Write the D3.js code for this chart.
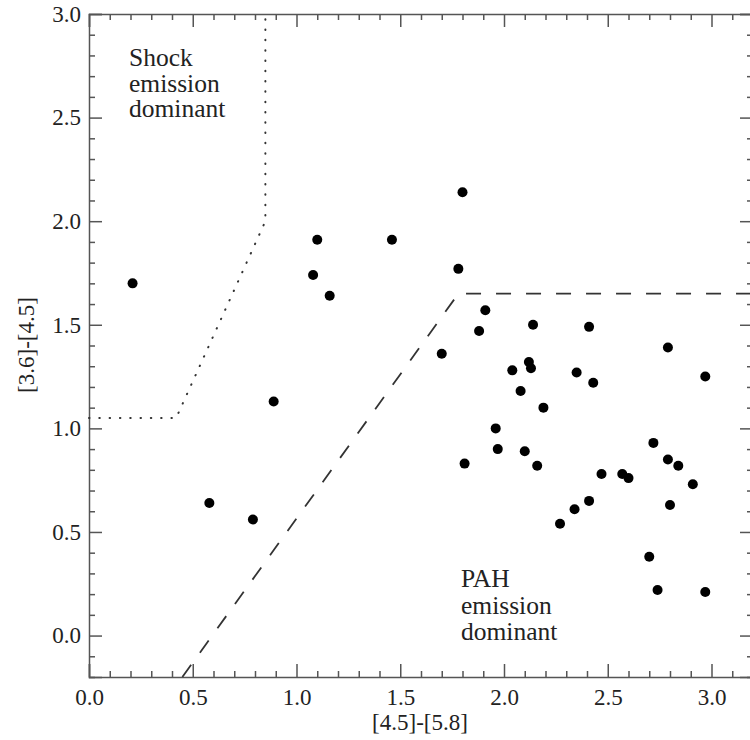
<!DOCTYPE html>
<html>
<head>
<meta charset="utf-8">
<script src="https://cdn.jsdelivr.net/npm/d3@7"></script>
<style>
  body { margin: 0; background: #fff; }
  text { font-family: "Liberation Serif", "DejaVu Serif", serif; fill: #222; }
  .axis path, .axis line { stroke: #555; stroke-width: 1.5; }
</style>
</head>
<body>
<div id="chart"></div>
<script>
// colour-colour data, [4.5]-[5.8] vs [3.6]-[4.5]
var xVals = [0.21, 0.58, 0.79, 0.89, 1.08, 1.10, 1.16, 1.46, 1.80, 1.78,
             1.70, 1.91, 1.88, 2.14, 2.41, 2.79, 2.12, 2.13, 2.04, 2.35,
             2.43, 2.97, 2.08, 2.19, 1.96, 1.97, 2.10, 1.81, 2.16, 2.72,
             2.79, 2.84, 2.47, 2.57, 2.60, 2.91, 2.80, 2.41, 2.34, 2.27,
             2.70, 2.74, 2.97];
var yVals = [1.70, 0.64, 0.56, 1.13, 1.74, 1.91, 1.64, 1.91, 2.14, 1.77,
             1.36, 1.57, 1.47, 1.50, 1.49, 1.39, 1.32, 1.29, 1.28, 1.27,
             1.22, 1.25, 1.18, 1.10, 1.00, 0.90, 0.89, 0.83, 0.82, 0.93,
             0.85, 0.82, 0.78, 0.78, 0.76, 0.73, 0.63, 0.65, 0.61, 0.54,
             0.38, 0.22, 0.21];

// region boundaries
var shockLine = [[0, 1.05], [0.42, 1.05], [0.85, 2.0], [0.85, 3.0]];
var pahLine = [[0.45, -0.2], [1.78, 1.65], [3.2, 1.65]];

var xMajor = [0.0, 0.5, 1.0, 1.5, 2.0, 2.5, 3.0];
var yMajor = [0.0, 0.5, 1.0, 1.5, 2.0, 2.5, 3.0];

var W = 750, H = 740;
var pLeft = 89, pTop = 14, pRight = 753, pBottom = 677;

var x = d3.scaleLinear().domain([0, 3.2]).range([pLeft, pRight]);
var y = d3.scaleLinear().domain([-0.2, 3.0]).range([pBottom, pTop]);

var svg = d3.select('#chart').append('svg')
  .attr('width', W)
  .attr('height', H);

var xMinor = d3.range(0, 3.2001, 0.1).filter(function(v) { return Math.abs(v*2 - Math.round(v*2)) > 0.01; });
var yMinor = d3.range(-0.2, 3.0001, 0.1).filter(function(v) { return Math.abs(v*2 - Math.round(v*2)) > 0.01; });

function fmt(d) { return d3.format('.1f')(d); }

// bottom
svg.append('g').attr('class', 'axis')
  .attr('transform', 'translate(0,' + pBottom + ')')
  .call(d3.axisBottom(x).tickValues(xMajor).tickSize(-13).tickPadding(12).tickFormat(fmt))
  .call(function(g) { g.selectAll('text').style('font-size', '23px').attr('fill', '#222'); });
svg.append('g').attr('class', 'axis')
  .attr('transform', 'translate(0,' + pBottom + ')')
  .call(d3.axisBottom(x).tickValues(xMinor).tickSize(-6).tickFormat(''))
  .call(function(g) { g.select('.domain').remove(); });
// top
svg.append('g').attr('class', 'axis')
  .attr('transform', 'translate(0,' + pTop + ')')
  .call(d3.axisTop(x).tickValues(xMajor).tickSize(-13).tickFormat(''));
svg.append('g').attr('class', 'axis')
  .attr('transform', 'translate(0,' + pTop + ')')
  .call(d3.axisTop(x).tickValues(xMinor).tickSize(-6).tickFormat(''))
  .call(function(g) { g.select('.domain').remove(); });
// left
svg.append('g').attr('class', 'axis')
  .attr('transform', 'translate(' + pLeft + ',0)')
  .call(d3.axisLeft(y).tickValues(yMajor).tickSize(-13).tickPadding(8).tickFormat(fmt))
  .call(function(g) { g.selectAll('text').style('font-size', '23px').attr('fill', '#222'); });
svg.append('g').attr('class', 'axis')
  .attr('transform', 'translate(' + pLeft + ',0)')
  .call(d3.axisLeft(y).tickValues(yMinor).tickSize(-6).tickFormat(''))
  .call(function(g) { g.select('.domain').remove(); });
// right
svg.append('g').attr('class', 'axis')
  .attr('transform', 'translate(' + pRight + ',0)')
  .call(d3.axisRight(y).tickValues(yMajor).tickSize(-13).tickFormat(''));
svg.append('g').attr('class', 'axis')
  .attr('transform', 'translate(' + pRight + ',0)')
  .call(d3.axisRight(y).tickValues(yMinor).tickSize(-6).tickFormat(''))
  .call(function(g) { g.select('.domain').remove(); });

svg.selectAll('.axis .domain').attr('stroke', '#555').attr('stroke-width', 2);

var line = d3.line()
  .x(function(d) { return x(d[0]); })
  .y(function(d) { return y(d[1]); });

svg.append('path')
  .attr('d', line(shockLine))
  .attr('fill', 'none')
  .attr('stroke', '#333')
  .attr('stroke-width', 2)
  .attr('stroke-linecap', 'round')
  .attr('stroke-dasharray', '0.5,9.8');

svg.append('path')
  .attr('d', line(pahLine))
  .attr('fill', 'none')
  .attr('stroke', '#333')
  .attr('stroke-width', 1.8)
  .attr('stroke-dasharray', '15,15');

var pts = xVals.map(function(v, i) { return {x: v, y: yVals[i]}; });
svg.selectAll('circle.pt')
  .data(pts)
  .enter()
  .append('circle')
  .attr('class', 'pt')
  .attr('cx', function(d) { return x(d.x); })
  .attr('cy', function(d) { return y(d.y); })
  .attr('r', 5)
  .attr('fill', '#000');

function label(lines, px, py, gap) {
  var t = svg.append('text')
    .attr('x', px)
    .attr('y', py)
    .style('font-size', '25.5px');
  lines.forEach(function(s, i) {
    t.append('tspan').attr('x', px).attr('dy', i == 0 ? 0 : gap).text(s);
  });
}
label(['Shock', 'emission', 'dominant'], 129, 66, 25.7);
label(['PAH', 'emission', 'dominant'], 461, 587, 26.6);

svg.append('text')
  .attr('x', 420)
  .attr('y', 730)
  .attr('text-anchor', 'middle')
  .style('font-size', '23px')
  .text('[4.5]-[5.8]');

svg.append('text')
  .attr('transform', 'translate(34,345) rotate(-90)')
  .attr('text-anchor', 'middle')
  .style('font-size', '23px')
  .text('[3.6]-[4.5]');
</script>
</body>
</html>
